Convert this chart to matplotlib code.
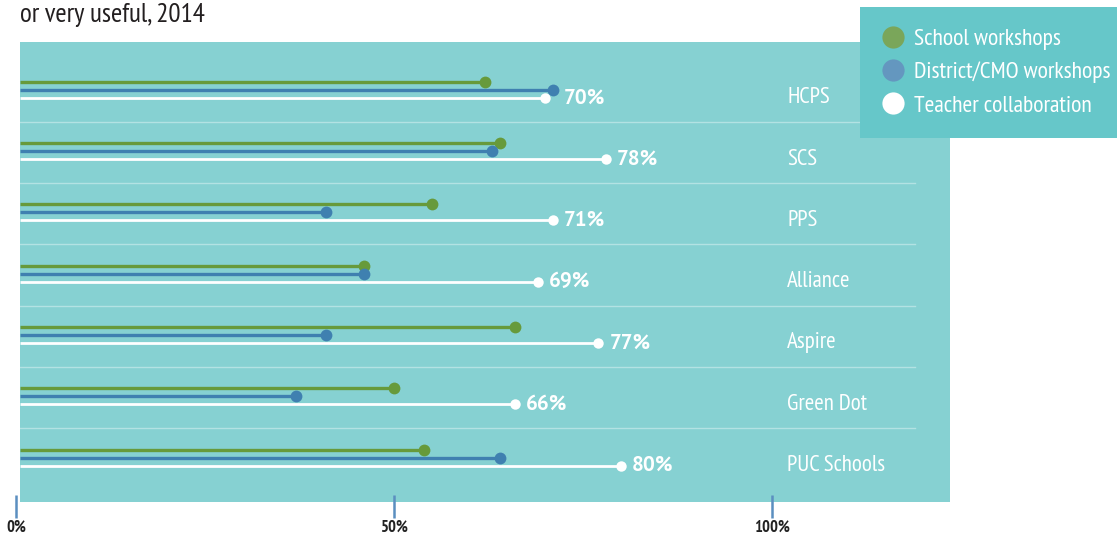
import matplotlib
matplotlib.use("Agg")
import matplotlib.pyplot as plt
from matplotlib.lines import Line2D
from matplotlib import font_manager

# data
escolas = ["HCPS", "SCS", "PPS", "Alliance", "Aspire", "Green Dot", "PUC Schools"]
school_workshops = [62, 64, 55, 46, 66, 50, 54]
district_workshops = [71, 63, 41, 46, 41, 37, 64]
teacher_collab = [70, 78, 71, 69, 77, 66, 80]
series_names = ["School workshops", "District/CMO workshops", "Teacher collaboration"]
xticks = [0, 50, 100]
xtick_labels = ["0%", "50%", "100%"]
titulo = "or very useful, 2014"

nomes = set(f.name for f in font_manager.fontManager.ttflist)
def escolhe(prefs):
    for p in prefs:
        if p in nomes:
            return p
    return "DejaVu Sans"

narrow = escolhe(["PT Sans Narrow", "Fira Sans Condensed", "Asap Condensed", "Barlow Condensed"])
negrito = escolhe(["PT Sans", "Open Sans"])

verde = "#679a3b"
azul = "#3f80b0"
branco = "#ffffff"
fundo = "#86d1d2"
caixa = "#66c7c9"

W, H = 1117, 535
fig = plt.figure(figsize=(W / 100, H / 100), dpi=100)
ax = fig.add_axes([20 / W, 1 - 502 / H, 930 / W, 460 / H])
ax.set_facecolor(fundo)
for s in ax.spines.values():
    s.set_visible(False)

ax.set_xlim(0.53, 123.54)
ax.set_ylim(6.724, -0.78)
x0 = ax.get_xlim()[0]

off = 0.13
cores = [verde, azul, branco]
series = [school_workshops, district_workshops, teacher_collab]
for k, (vals, cor) in enumerate(zip(series, cores)):
    ys = [i + (k - 1) * off for i in range(len(escolas))]
    lw = 2.4 if k < 2 else 2.0
    ms = 8.5 if k < 2 else 7.5
    ax.hlines(ys, x0, vals, color=cor, lw=lw, zorder=2)
    ax.plot(vals, ys, "o", color=cor, ms=ms, mec="none", zorder=3)

# separadores
for i in range(len(escolas) - 1):
    ax.plot([x0, 118.9], [i + 0.52, i + 0.52], color="#b3e2e3", lw=1, zorder=1)

for i, nome in enumerate(escolas):
    m = max(school_workshops[i], district_workshops[i], teacher_collab[i])
    ax.annotate(f"{teacher_collab[i]}%", (m, i + off), xytext=(8, 0),
                textcoords="offset points", va="center", ha="left",
                color="white", fontsize=15, fontweight="bold", family=negrito)
    ax.text(102, i + off, nome, va="center", ha="left", color="white",
            fontsize=16.5, family=narrow)

# eixo x desenhado à mão (o 0% fica um pouco fora da área)
ax.set_xticks([])
ax.set_yticks([])
trans = ax.get_xaxis_transform()
ax.vlines(xticks, 0.0152, -0.0348, transform=trans, color="#5b8fc0", lw=1.8, clip_on=False)
for xt, lab in zip(xticks, xtick_labels):
    ax.text(xt, -0.0565, lab, transform=trans, ha="center", va="center",
            fontsize=12, fontweight="bold", family=narrow, color="#222222")

fig.text(20 / W, 1 - 22 / H, titulo, fontsize=19.5, family=narrow, color="#231f20")

handles = [Line2D([], [], ls="none", marker="o", ms=16, mec="none", color=c)
           for c in ["#7aa65a", "#6497bf", "#ffffff"]]
leg = fig.legend(handles, series_names, loc="upper right", bbox_to_anchor=(1 + 15 / W, 1 - 7 / H),
                 frameon=True, facecolor=caixa, edgecolor="none", fancybox=False, framealpha=1,
                 prop={"family": narrow, "size": 17}, labelcolor="white",
                 handletextpad=0.4, labelspacing=0.5, borderpad=0.9, handlelength=1.0,
                 borderaxespad=0)

fig.savefig("out.png", dpi=100)
